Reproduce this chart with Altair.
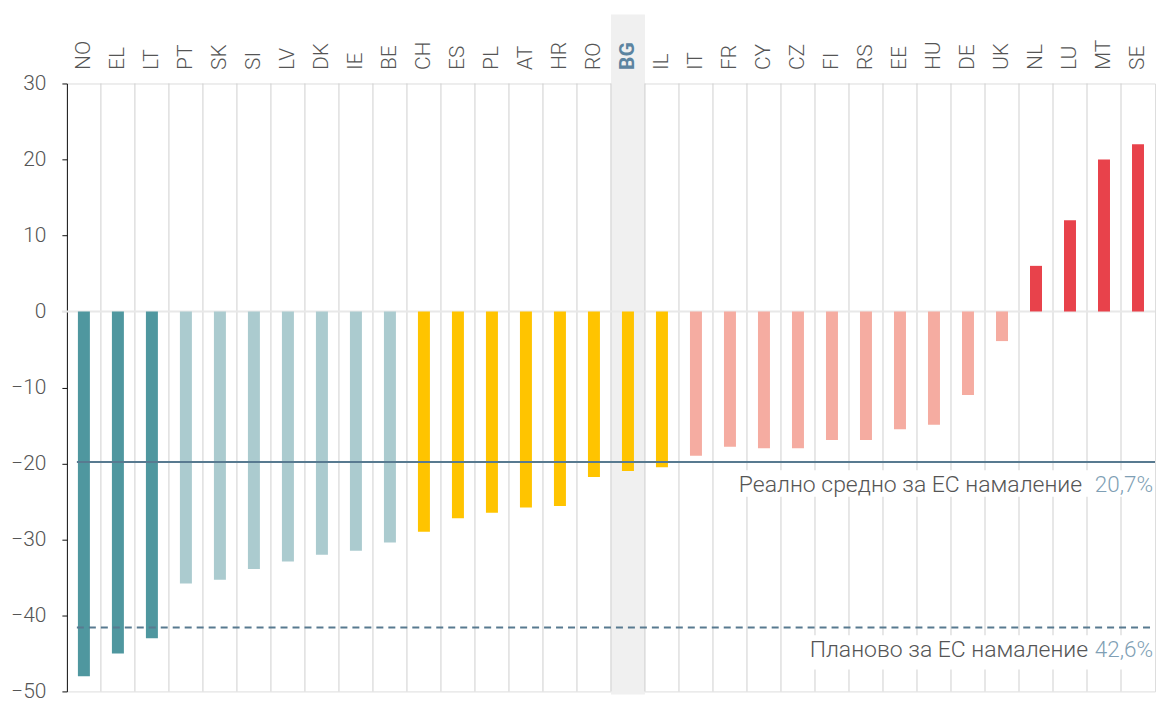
import altair as alt
import pandas as pd

countries = ["NO", "EL", "LT", "PT", "SK", "SI", "LV", "DK", "IE", "BE",
             "CH", "ES", "PL", "AT", "HR", "RO", "BG", "IL",
             "IT", "FR", "CY", "CZ", "FI", "RS", "EE", "HU", "DE", "UK",
             "NL", "LU", "MT", "SE"]
values = [-48.0, -45.0, -43.0, -35.8, -35.3, -33.9, -32.9, -32.0, -31.5, -30.4,
          -29.0, -27.2, -26.5, -25.8, -25.6, -21.8, -21.0, -20.5,
          -19.0, -17.8, -18.0, -18.0, -16.9, -16.9, -15.5, -14.9, -11.0, -3.9,
          6.0, 12.0, 20.0, 22.0]
groups = (["g1"] * 3 + ["g2"] * 7 + ["g3"] * 8 + ["g4"] * 10 + ["g5"] * 4)
group_colors = ["#4f979f", "#abcbcf", "#ffc400", "#f5aca1", "#e8424b"]

highlight = "BG"
actual_avg = -19.8
planned_avg = -41.6
actual_label = "Реално средно за ЕС намаление"
actual_value = "20,7%"
planned_label = "Планово за ЕС намаление"
planned_value = "42,6%"
y_ticks = [-50, -40, -30, -20, -10, 0, 10, 20, 30]

W, H = 1090, 609
FONT = "Roboto"

df = pd.DataFrame({"country": countries, "value": values, "group": groups})

xscale = alt.Scale(domain=countries, paddingInner=0, paddingOuter=0)
yscale = alt.Scale(domain=[-50, 30], nice=False, zero=False)

x_axis = alt.Axis(
    orient="top", title=None, domain=False, ticks=False, grid=False,
    labelAngle=-90, labelPadding=14, labelFontSize=21, labelFont=FONT,
    labelFontWeight=alt.ExprRef(expr=f"datum.value == '{highlight}' ? 700 : 300"),
    labelColor=alt.ExprRef(expr=f"datum.value == '{highlight}' ? '#5c84a0' : '#555555'"),
    zindex=1,
)
y_axis = alt.Axis(
    title=None, values=y_ticks, grid=False, domainColor="#111111", domainWidth=1,
    tickColor="#111111", tickSize=5, labelFontSize=21, labelFont=FONT,
    labelFontWeight=300, labelColor="#555555", labelPadding=16,
)

base = alt.Chart(df)

hl = alt.Chart(pd.DataFrame({"country": [highlight]})).mark_rect(color="#f0f0f0").encode(
    x=alt.X("country:N", scale=xscale, axis=x_axis, sort=countries),
    y=alt.value(-69), y2=alt.value(H + 3),
)

grid = alt.Chart(pd.DataFrame({"country": countries[1:]})).mark_rule(
    color="#cfcfcf", strokeWidth=1
).encode(
    x=alt.X("country:N", scale=xscale, sort=countries, bandPosition=0),
    y=alt.value(0), y2=alt.value(H),
)

zero = alt.Chart(pd.DataFrame({"v": [0]})).mark_rule(color="#e8e8e8", strokeWidth=2).encode(
    y=alt.Y("v:Q", scale=yscale, axis=y_axis), x=alt.value(-5), x2=alt.value(W),
)

bars = base.mark_bar(size=12).encode(
    x=alt.X("country:N", scale=xscale, sort=countries),
    y=alt.Y("value:Q", scale=yscale),
    color=alt.Color("group:N", scale=alt.Scale(domain=["g1", "g2", "g3", "g4", "g5"],
                                               range=group_colors), legend=None),
)

lines_df = pd.DataFrame({"v": [actual_avg, planned_avg], "kind": ["actual", "planned"]})
solid = alt.Chart(lines_df[lines_df.kind == "actual"]).mark_rule(
    color="#587a90", strokeWidth=2).encode(
    y=alt.Y("v:Q", scale=yscale), x=alt.value(10), x2=alt.value(W))
dashed = alt.Chart(lines_df[lines_df.kind == "planned"]).mark_rule(
    color="#587a90", strokeWidth=2, strokeDash=[7, 5]).encode(
    y=alt.Y("v:Q", scale=yscale), x=alt.value(10), x2=alt.value(W))

ann = pd.DataFrame({
    "label": [actual_label, planned_label],
    "num": [actual_value, planned_value],
    "y": [actual_avg - 3.0, planned_avg - 2.9],
    "ytop": [actual_avg - 1.1, planned_avg - 1.0],
    "ybot": [actual_avg - 4.6, planned_avg - 5.5],
    "x0": [W - 421, W - 349],
    "xl": [W - 73, W - 67],
})

boxes = alt.Chart(ann).mark_rect(color="white").encode(
    x=alt.X("x0:Q", scale=None), x2=alt.value(W),
    y=alt.Y("ytop:Q", scale=yscale), y2=alt.Y2("ybot:Q"),
)
labels = alt.Chart(ann).mark_text(
    align="right", baseline="middle", font=FONT, fontSize=23, fontWeight=300, color="#555555"
).encode(
    x=alt.X("xl:Q", scale=None), y=alt.Y("y:Q", scale=yscale), text="label:N",
)
nums = alt.Chart(ann).mark_text(
    align="right", baseline="middle", font=FONT, fontSize=22.5, fontWeight=300, color="#7f9fb5"
).encode(
    x=alt.value(W - 2), y=alt.Y("y:Q", scale=yscale), text="num:N",
)

chart = alt.layer(hl, grid, zero, bars, solid, dashed, boxes, labels, nums).properties(
    width=W, height=H,
    padding={"top": 6, "left": 2, "right": 0, "bottom": 0},
).configure_view(stroke=None).configure(background="white")

chart.save("out.html", embed_options={"renderer": "svg", "actions": False})
